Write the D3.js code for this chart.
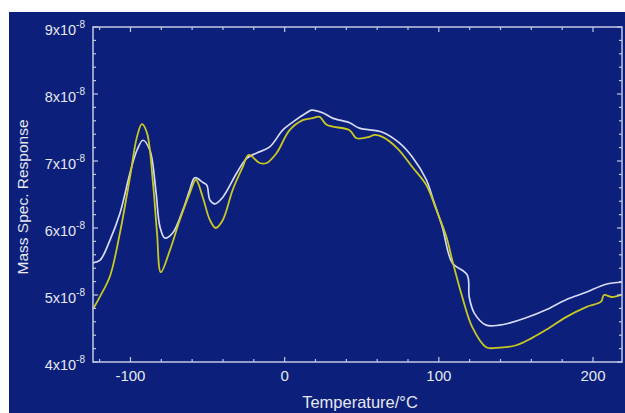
<!DOCTYPE html>
<html><head><meta charset="utf-8">
<script src="https://cdn.jsdelivr.net/npm/d3@7"></script>
<style>html,body{margin:0;padding:0;background:#fff;}svg{display:block;}</style>
</head><body>
<svg id="chart" width="625" height="413"></svg>
<script>
// Temperature (°C)
const tempWhite = [-124.3,-119.7,-113.3,-106.8,-100.3,-95.8,-91.9,-87.4,-83.5,-80.9,-77.7,-72.5,-66.0,-61.5,-58.3,-53.0,-50.5,-48.5,-45.3,-40.1,-31.1,-24.6,-18.1,-9.7,-1.3,5.2,14.2,17.5,24.6,31.1,42.1,48.5,63.4,74.4,82.8,91.9,95.8,102.3,108.7,118.4,119.7,123.0,130.7,139.2,145.6,156.6,169.6,182.5,195.5,208.4,218.8];
// Mass spec response (units of 1e-8)
const respWhite = [5.48,5.52,5.82,6.22,6.82,7.16,7.31,7.16,6.55,6.02,5.85,5.93,6.27,6.57,6.75,6.68,6.64,6.42,6.36,6.46,6.82,7.04,7.12,7.21,7.46,7.58,7.72,7.76,7.72,7.64,7.57,7.49,7.43,7.27,7.06,6.72,6.46,6.01,5.48,5.30,4.97,4.73,4.55,4.55,4.58,4.66,4.78,4.93,5.04,5.16,5.19];

const tempYellow = [-124.3,-119.7,-113.3,-106.8,-100.3,-95.8,-92.6,-89.3,-85.4,-82.8,-80.3,-74.4,-68.0,-61.5,-57.6,-53.1,-48.5,-44.7,-40.1,-33.7,-27.2,-23.3,-16.2,-11.7,-5.2,3.2,11.7,18.1,22.7,27.2,42.1,46.6,55.0,58.3,63.4,73.1,82.8,91.9,98.4,104.9,108.7,115.2,121.7,130.7,137.2,150.2,160.5,169.6,182.5,195.5,205.2,207.1,212.3,218.8];
const respYellow = [4.79,4.98,5.28,5.93,6.76,7.36,7.55,7.42,6.67,5.93,5.34,5.67,6.12,6.52,6.72,6.46,6.12,6.00,6.12,6.57,6.91,7.09,6.97,6.97,7.12,7.46,7.61,7.64,7.66,7.54,7.46,7.34,7.36,7.39,7.36,7.19,6.91,6.64,6.27,5.87,5.52,4.97,4.52,4.22,4.21,4.25,4.36,4.48,4.67,4.82,4.90,5.00,4.97,5.01];

const xTicks = [-100, 0, 100, 200];
const yTicks = [4, 5, 6, 7, 8, 9];
const xTitle = "Temperature/°C";
const yTitle = "Mass Spec. Response";

const svg = d3.select("#chart");
const W = 625, H = 413;
const plot = {left: 93, top: 27, right: 622, bottom: 362};
const navy = "#0b1f7b";
const frameCol = "#c3c8e4";
const textCol = "#e6e7ef";

svg.append("rect").attr("x", 9).attr("y", 12).attr("width", W - 9).attr("height", H - 12).attr("fill", navy);

const x = d3.scaleLinear().domain([-124.3, 218.8]).range([plot.left, plot.right]);
const y = d3.scaleLinear().domain([4, 9]).range([plot.bottom, plot.top]);

const line = d3.line().x(d => x(d[0])).y(d => y(d[1])).curve(d3.curveCatmullRom.alpha(0.5));

const g = svg.append("g");
g.append("path").datum(d3.zip(tempWhite, respWhite)).attr("d", line)
  .attr("fill", "none").attr("stroke", "#d6daf4").attr("stroke-width", 1.7);
g.append("path").datum(d3.zip(tempYellow, respYellow)).attr("d", line)
  .attr("fill", "none").attr("stroke", "#c9c722").attr("stroke-width", 1.8);

// frame
svg.append("rect").attr("x", plot.left).attr("y", plot.top)
  .attr("width", plot.right - plot.left).attr("height", plot.bottom - plot.top)
  .attr("fill", "none").attr("stroke", frameCol).attr("stroke-width", 1.5);

// inward ticks on all sides
const xMinor = d3.range(-120, 219, 20);
const yMinor = d3.range(4, 9.001, 0.2);
const tk = svg.append("g").attr("stroke", frameCol).attr("stroke-width", 1.2);
xMinor.forEach(v => {
  const L = xTicks.includes(v) ? 5 : 3;
  tk.append("line").attr("x1", x(v)).attr("x2", x(v)).attr("y1", plot.bottom).attr("y2", plot.bottom - L);
  tk.append("line").attr("x1", x(v)).attr("x2", x(v)).attr("y1", plot.top).attr("y2", plot.top + L);
});
yMinor.forEach(v => {
  const L = Math.abs(v - Math.round(v)) < 1e-6 ? 5 : 3;
  tk.append("line").attr("y1", y(v)).attr("y2", y(v)).attr("x1", plot.left).attr("x2", plot.left + L);
  tk.append("line").attr("y1", y(v)).attr("y2", y(v)).attr("x1", plot.right).attr("x2", plot.right - L);
});

const font = "'Liberation Sans', Arial, sans-serif";
// x tick labels
svg.append("g").selectAll("text").data(xTicks).join("text")
  .attr("x", d => x(d)).attr("y", 381).attr("text-anchor", "middle")
  .attr("font-family", font).attr("font-size", 15).attr("fill", textCol)
  .text(d => d);

// y tick labels with superscript
const yl = svg.append("g").selectAll("text").data(yTicks).join("text")
  .attr("x", 85).attr("y", d => y(d) + 8).attr("text-anchor", "end")
  .attr("font-family", font).attr("font-size", 14.5).attr("fill", textCol);
yl.append("tspan").text(d => d + "x10");
yl.append("tspan").attr("dy", -7).attr("font-size", 10).text("-8");

svg.append("text").attr("x", 360).attr("y", 408).attr("text-anchor", "middle")
  .attr("font-family", font).attr("font-size", 16.5).attr("fill", textCol).text(xTitle);

svg.append("text").attr("transform", "translate(28,197) rotate(-90)").attr("text-anchor", "middle")
  .attr("font-family", font).attr("font-size", 15.5).attr("fill", textCol).text(yTitle);
</script>
</body></html>
